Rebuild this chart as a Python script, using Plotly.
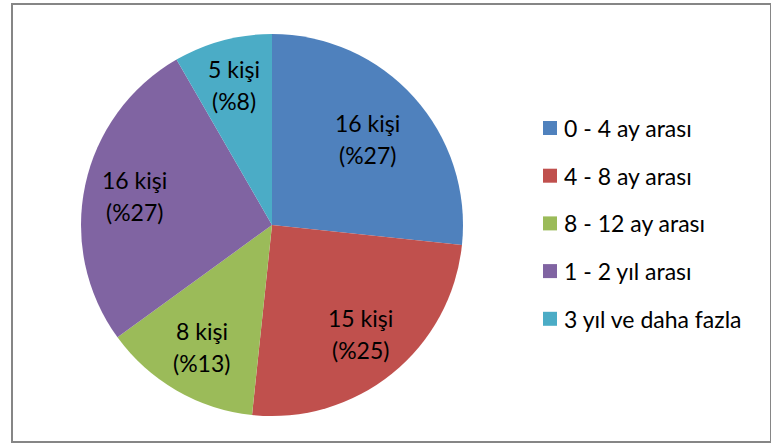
import math
import plotly.graph_objects as go

# Survey data: how long respondents have been working
categories = ["0 - 4 ay arası", "4 - 8 ay arası", "8 - 12 ay arası", "1 - 2 yıl arası", "3 yıl ve daha fazla"]
counts = [16, 15, 8, 16, 5]
colors = ["#4F81BD", "#C0504D", "#9BBB59", "#8064A2", "#4BACC6"]

W, H = 771, 445
FONT = "Lato"

# Pie geometry in pixels
cx, cy, r = 272, 225, 191
dom_x = [(cx - r) / W, (cx + r) / W]
dom_y = [1 - (cy + r) / H, 1 - (cy - r) / H]

fig = go.Figure()
fig.add_trace(go.Pie(
    labels=categories,
    values=counts,
    sort=False,
    direction="clockwise",
    rotation=0,
    marker=dict(colors=colors, line=dict(width=0)),
    textinfo="none",
    hoverinfo="label+value+percent",
    showlegend=False,
    domain=dict(x=dom_x, y=dom_y),
))

# Slice labels placed along the middle angle of each slice
label_radius = [0.67, 0.735, 0.735, 0.735, 0.76]
total = sum(counts)
annotations = []
cum = 0
for n, rf in zip(counts, label_radius):
    mid = (cum + n / 2) / total * 2 * math.pi
    cum += n
    px = cx + rf * r * math.sin(mid)
    py = cy - rf * r * math.cos(mid)
    pct = round(n / total * 100)
    for line, dy in ((f"{n} kişi", -16), (f"(%{pct})", 16)):
        annotations.append(dict(
            x=px / W, y=1 - (py + dy) / H, xref="paper", yref="paper",
            text=line, showarrow=False,
            font=dict(family=FONT, size=23, color="#000000"),
            xanchor="center", yanchor="middle", align="center",
        ))

# Legend on the right
shapes = []
leg_x, leg_y0, leg_dy, sq = 543, 128, 47.7, 14
for i, (name, col) in enumerate(zip(categories, colors)):
    yc = leg_y0 + i * leg_dy
    shapes.append(dict(
        type="rect", xref="paper", yref="paper",
        x0=leg_x / W, x1=(leg_x + sq) / W,
        y0=1 - (yc + sq / 2) / H, y1=1 - (yc - sq / 2) / H,
        fillcolor=col, line=dict(width=0),
    ))
    annotations.append(dict(
        x=(leg_x + sq + 5) / W, y=1 - yc / H, xref="paper", yref="paper",
        text=name, showarrow=False, xanchor="left", yanchor="middle",
        font=dict(family=FONT, size=23, color="#000000"),
    ))

# Chart border
shapes.append(dict(
    type="rect", xref="paper", yref="paper",
    x0=12 / W, x1=771 / W, y0=1 - 442 / H, y1=1 - 4 / H,
    line=dict(color="#868686", width=2), fillcolor="rgba(0,0,0,0)",
))

fig.update_layout(
    width=W, height=H,
    margin=dict(l=0, r=0, t=0, b=0),
    paper_bgcolor="white", plot_bgcolor="white",
    shapes=shapes, annotations=annotations,
    showlegend=False,
)

fig.write_html("out.html")
